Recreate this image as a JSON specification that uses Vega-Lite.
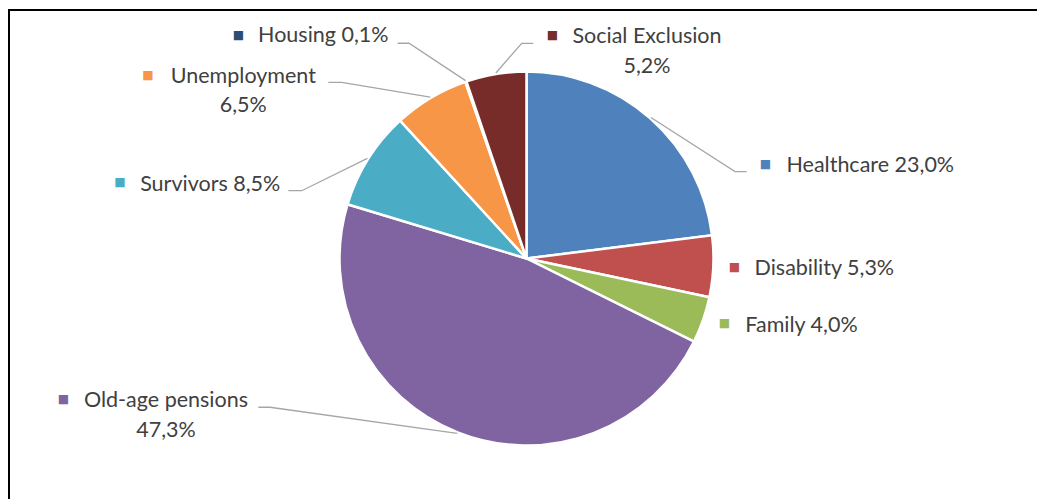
{
  "$schema": "https://vega.github.io/schema/vega-lite/v6.json",
  "width": 1035,
  "height": 497,
  "autosize": "none",
  "padding": {"left": 9, "top": 10, "right": -7, "bottom": -8},
  "background": "white",
  "config": {
    "view": {"stroke": "#000000", "strokeWidth": 2},
    "text": {"font": "Lato", "fontSize": 21.5, "color": "#404040", "lineHeight": 29.5}
  },
  "data": {
    "values": [
      {"cat": "Healthcare", "value": 23.0, "order": 1},
      {"cat": "Disability", "value": 5.3, "order": 2},
      {"cat": "Family", "value": 4.0, "order": 3},
      {"cat": "Old-age pensions", "value": 47.3, "order": 4},
      {"cat": "Survivors", "value": 8.5, "order": 5},
      {"cat": "Unemployment", "value": 6.5, "order": 6},
      {"cat": "Housing", "value": 0.1, "order": 7},
      {"cat": "Social Exclusion", "value": 5.2, "order": 8}
    ]
  },
  "transform": [
    {"window": [{"op": "sum", "field": "value", "as": "cum"}], "sort": [{"field": "order", "order": "ascending"}], "frame": [null, 0]},
    {"joinaggregate": [{"op": "sum", "field": "value", "as": "total"}]},
    {"calculate": "2*PI*(datum.cum - datum.value/2)/datum.total", "as": "ang"},
    {"calculate": "188*sin(datum.ang)", "as": "ex"},
    {"calculate": "188*cos(datum.ang)", "as": "ey"},
    {"calculate": "replace(format(datum.value, '.1f'), '.', ',') + '%'", "as": "pct"},
    {"calculate": "datum.cat + ' ' + datum.pct", "as": "one"},
    {"calculate": "[datum.cat, datum.pct]", "as": "two"}
  ],
  "layer": [
    {
      "mark": {"type": "arc", "outerRadius": 187, "stroke": "#ffffff", "strokeWidth": 2.5},
      "encoding": {
        "theta": {"field": "value", "type": "quantitative", "stack": true},
        "order": {"field": "order", "type": "quantitative"},
        "color": {
          "field": "cat", "type": "nominal", "legend": null,
          "scale": {
            "domain": ["Healthcare", "Disability", "Family", "Old-age pensions", "Survivors", "Unemployment", "Housing", "Social Exclusion"],
            "range": ["#4F81BD", "#C0504D", "#9BBB59", "#8064A2", "#4BACC6", "#F79646", "#2C4D75", "#772C2A"]
          }
        }
      }
    },
    {
      "transform": [{"filter": "datum.cat !== 'Disability' && datum.cat !== 'Family'"}],
      "mark": {"type": "point", "filled": false, "size": 4, "color": "#A6A6A6", "strokeWidth": 1.3, "opacity": 1},
      "encoding": {
        "x": {"field": "ex", "type": "quantitative", "scale": {"domain": [-517.5, 517.5], "nice": false, "zero": false}, "axis": null},
        "y": {"field": "ey", "type": "quantitative", "scale": {"domain": [-248.5, 248.5], "nice": false, "zero": false}, "axis": null},
        "shape": {
          "field": "cat", "type": "nominal", "legend": null,
          "scale": {
            "domain": ["Healthcare", "Old-age pensions", "Survivors", "Unemployment", "Housing", "Social Exclusion"],
            "range": [
              "M0,0L84.1,54.1L95.8,54.1",
              "M0,0L-187.2,-26L-198.9,-26",
              "M0,0L-65.6,32.3L-79,32.3",
              "M0,0L-88.5,-14.7L-101.9,-14.7",
              "M0,0L-56.5,-37.4L-67.9,-37.4",
              "M0,0L25.8,-29.7L37.4,-29.7"
            ]
          }
        }
      }
    },
    {
      "transform": [{"filter": "datum.cat === 'Housing'"}],
      "encoding": {"x": {"field": "ex", "type": "quantitative"}, "y": {"field": "ey", "type": "quantitative"}},
      "layer": [
        {"mark": {"type": "text", "align": "center", "baseline": "alphabetic", "dx": -142.25, "dy": -38.16}, "encoding": {"text": {"field": "one"}}},
        {"mark": {"type": "text", "text": "■", "font": "DejaVu Sans", "fontSize": 12, "align": "center", "baseline": "middle", "dx": -227.05, "dy": -45.46}, "encoding": {"color": {"field": "cat", "type": "nominal", "legend": null}}}
      ]
    },
    {
      "transform": [{"filter": "datum.cat === 'Social Exclusion'"}],
      "encoding": {"x": {"field": "ex", "type": "quantitative"}, "y": {"field": "ey", "type": "quantitative"}},
      "layer": [
        {"mark": {"type": "text", "align": "center", "baseline": "alphabetic", "dx": 151.1, "dy": -29.7}, "encoding": {"text": {"field": "two"}}},
        {"mark": {"type": "text", "text": "■", "font": "DejaVu Sans", "fontSize": 12, "align": "center", "baseline": "middle", "dx": 56.6, "dy": -38.2}, "encoding": {"color": {"field": "cat", "type": "nominal", "legend": null}}}
      ]
    },
    {
      "transform": [{"filter": "datum.cat === 'Unemployment'"}],
      "encoding": {"x": {"field": "ex", "type": "quantitative"}, "y": {"field": "ey", "type": "quantitative"}},
      "layer": [
        {"mark": {"type": "text", "align": "center", "baseline": "alphabetic", "dx": -186.9, "dy": -14.04}, "encoding": {"text": {"field": "two"}}},
        {"mark": {"type": "text", "text": "■", "font": "DejaVu Sans", "fontSize": 12, "align": "center", "baseline": "middle", "dx": -282.2, "dy": -22.34}, "encoding": {"color": {"field": "cat", "type": "nominal", "legend": null}}}
      ]
    },
    {
      "transform": [{"filter": "datum.cat === 'Survivors'"}],
      "encoding": {"x": {"field": "ex", "type": "quantitative"}, "y": {"field": "ey", "type": "quantitative"}},
      "layer": [
        {"mark": {"type": "text", "align": "center", "baseline": "alphabetic", "dx": -157.14, "dy": 32.26}, "encoding": {"text": {"field": "one"}}},
        {"mark": {"type": "text", "text": "■", "font": "DejaVu Sans", "fontSize": 12, "align": "center", "baseline": "middle", "dx": -247.34, "dy": 24.06}, "encoding": {"color": {"field": "cat", "type": "nominal", "legend": null}}}
      ]
    },
    {
      "transform": [{"filter": "datum.cat === 'Healthcare'"}],
      "encoding": {"x": {"field": "ex", "type": "quantitative"}, "y": {"field": "ey", "type": "quantitative"}},
      "layer": [
        {"mark": {"type": "text", "align": "center", "baseline": "alphabetic", "dx": 219.36, "dy": 54.42}, "encoding": {"text": {"field": "one"}}},
        {"mark": {"type": "text", "text": "■", "font": "DejaVu Sans", "fontSize": 12, "align": "center", "baseline": "middle", "dx": 114.56, "dy": 46.22}, "encoding": {"color": {"field": "cat", "type": "nominal", "legend": null}}}
      ]
    },
    {
      "transform": [{"filter": "datum.cat === 'Disability'"}],
      "encoding": {"x": {"field": "ex", "type": "quantitative"}, "y": {"field": "ey", "type": "quantitative"}},
      "layer": [
        {"mark": {"type": "text", "align": "center", "baseline": "alphabetic", "dx": 109.97, "dy": 8.82}, "encoding": {"text": {"field": "one"}}},
        {"mark": {"type": "text", "text": "■", "font": "DejaVu Sans", "fontSize": 12, "align": "center", "baseline": "middle", "dx": 20.17, "dy": 0.32}, "encoding": {"color": {"field": "cat", "type": "nominal", "legend": null}}}
      ]
    },
    {
      "transform": [{"filter": "datum.cat === 'Family'"}],
      "encoding": {"x": {"field": "ex", "type": "quantitative"}, "y": {"field": "ey", "type": "quantitative"}},
      "layer": [
        {"mark": {"type": "text", "align": "center", "baseline": "alphabetic", "dx": 97.44, "dy": 11.41}, "encoding": {"text": {"field": "one"}}},
        {"mark": {"type": "text", "text": "■", "font": "DejaVu Sans", "fontSize": 12, "align": "center", "baseline": "middle", "dx": 20.44, "dy": 2.51}, "encoding": {"color": {"field": "cat", "type": "nominal", "legend": null}}}
      ]
    },
    {
      "transform": [{"filter": "datum.cat === 'Old-age pensions'"}],
      "encoding": {"x": {"field": "ex", "type": "quantitative"}, "y": {"field": "ey", "type": "quantitative"}},
      "layer": [
        {"mark": {"type": "text", "align": "center", "baseline": "alphabetic", "dx": -291.22, "dy": -25.97}, "encoding": {"text": {"field": "two"}}},
        {"mark": {"type": "text", "text": "■", "font": "DejaVu Sans", "fontSize": 12, "align": "center", "baseline": "middle", "dx": -393.72, "dy": -34.57}, "encoding": {"color": {"field": "cat", "type": "nominal", "legend": null}}}
      ]
    }
  ]
}
